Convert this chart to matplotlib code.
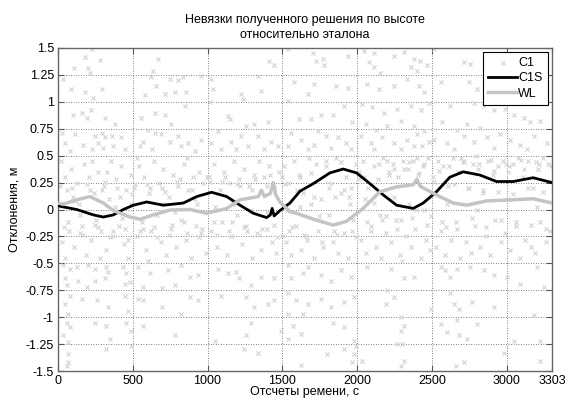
import numpy as np
import matplotlib.pyplot as plt

plt.rcParams['font.family'] = ['Liberation Sans', 'DejaVu Sans']
plt.rcParams['font.size'] = 9

# C1S smoothed solution (black)
c1s_x = [0, 13, 125, 236, 303, 370, 437, 504, 593, 704, 838, 927, 1027, 1128, 1217,
         1306, 1395, 1420, 1432, 1445, 1484, 1551, 1618, 1707, 1818, 1907, 1996, 2086,
         2175, 2264, 2375, 2442, 2531, 2620, 2709, 2821, 2932, 3044, 3177, 3303]
c1s_y = [0.04, 0.03, 0.0, -0.05, -0.07, -0.05, 0.0, 0.04, 0.07, 0.04, 0.06, 0.12, 0.16,
         0.12, 0.04, -0.035, -0.075, -0.05, 0.01, -0.06, -0.01, 0.06, 0.17, 0.24, 0.34,
         0.376, 0.34, 0.24, 0.135, 0.04, 0.01, 0.06, 0.165, 0.30, 0.35, 0.32, 0.26,
         0.26, 0.295, 0.25]

# WL reference solution (light grey)
wl_x = [0, 35, 125, 214, 303, 370, 482, 549, 638, 749, 883, 994, 1128, 1217, 1340,
        1360, 1380, 1420, 1440, 1455, 1484, 1551, 1595, 1707, 1840, 1929, 2040, 2153,
        2264, 2375, 2400, 2420, 2442, 2531, 2642, 2732, 2866, 3044, 3177, 3303]
wl_y = [0.06, 0.05, 0.09, 0.12, 0.06, -0.01, -0.07, -0.09, -0.05, -0.005, 0.0,
        -0.035, 0.01, 0.09, 0.12, 0.18, 0.12, 0.15, 0.25, 0.14, 0.07, -0.02, -0.035,
        -0.09, -0.145, -0.11, 0.01, 0.165, 0.21, 0.23, 0.28, 0.22, 0.2, 0.135, 0.06,
        0.04, 0.08, 0.09, 0.10, 0.06]

# C1 raw solution (scatter)
c1_x = [
    # upper band
    180, 224, 280, 202, 109, 213, 36, 87, 180, 235, 291, 102, 158, 220, 191, 313, 380,
    24, 113, 247, 291, 313, 358, 424, 169, 302, 80, 224, 369, 447, 47, 269,
    636, 669, 624, 658, 747, 802, 836, 713, 780, 580, 858, 958, 647, 713, 558, 847,
    758, 602, 647, 691, 802, 747, 869, 547, 627, 824, 913, 958, 569,
    1024, 1036, 1013, 1224, 1236, 1336, 1358, 1413, 1447, 1136, 1147, 1258, 1313,
    1402, 1069, 1024, 1158, 1224, 1336, 1424, 1091, 1269, 1380, 1469, 1191,
    1536, 1702, 1724, 1769, 1780, 1936, 1580, 1669, 1713, 1858, 1936, 1536, 1613,
    1691, 1758, 1836, 1913, 1969, 1558, 1624, 1736, 1791, 1869, 1924, 1536, 1669,
    1824, 1958, 1713,
    2044, 2111, 2078, 2111, 2156, 2247, 2311, 2378, 2422, 2467, 2358, 2402, 2069,
    2147, 2247, 2336, 2413, 2447, 2036, 2102, 2180, 2269, 2358, 2424, 2480, 2058,
    2124, 2202, 2291, 2380, 2447, 2024, 2091, 2169, 2247, 2336, 2402, 2436, 2480,
    2113, 2291, 2380,
    2513, 2713, 2758, 2558, 2747, 2802, 2624, 2780, 2847, 2913, 2569, 2669, 2736,
    2824, 2991, 3047, 3113, 3158, 3224, 2513, 2602, 2713, 2780, 2869, 2958, 3024,
    3091, 3180, 3269, 2647, 2913, 3136,
    # lower band
    36, 80, 124, 202, 247, 324, 336, 436, 458, 47, 136, 247, 313, 447, 480, 58, 191,
    80, 158, 258, 447, 47, 336, 469, 69, 58, 80, 247, 324, 458, 36, 347, 491, 69,
    324, 69, 69, 58, 491,
    536, 613, 736, 824, 880, 936, 569, 693, 780, 536, 569, 693, 824, 880, 936, 569,
    780,
    1069, 1136, 1191, 1213, 1291, 1358, 1447, 1091, 1258, 1313, 1402, 1447, 1291,
    1258, 1247, 1336, 1047, 1491,
    1536, 1558, 1636, 1669, 1758, 1824, 1891, 1958, 1536, 1591, 1669, 1758, 1824,
    1913, 1980, 1536, 1636, 1836, 1913, 1569, 1624, 1536, 1980, 1913, 1980, 1802,
    1624, 1969, 2036, 1991,
    2069, 2224, 2313, 2380, 2202, 2247, 2191, 2291, 2313, 2291, 2269, 2302, 2313,
    2291, 2558, 2491,
    2591, 2624, 2669, 2758, 2847, 2913, 3002, 3091, 3202, 3247, 2624, 2647, 2680,
    2769, 2913, 2558, 2669, 2602, 2680, 2736, 2802, 3047, 3224, 2980, 2713, 2658,
    3224, 3180,
    # middle band
    20, 45, 60, 75, 90, 110, 125, 140, 160, 175, 190, 205, 220, 240, 255, 270, 290,
    305, 320, 340, 355, 370, 390, 405, 420, 440, 455, 470, 485, 30, 50, 100, 150,
    230, 280, 330, 380, 430, 490,
    510, 525, 540, 560, 575, 590, 610, 625, 640, 660, 675, 690, 705, 720, 740, 755,
    770, 790, 805, 820, 840, 855, 870, 890, 905, 920, 940, 955, 970, 990, 530, 600,
    700, 780, 860, 930,
    1010, 1025, 1045, 1060, 1080, 1095, 1110, 1130, 1145, 1160, 1180, 1195, 1210,
    1230, 1245, 1260, 1280, 1295, 1310, 1330, 1345, 1360, 1380, 1395, 1410, 1430,
    1445, 1460, 1480, 1495, 1050, 1170, 1290, 1400,
    1510, 1525, 1540, 1560, 1575, 1590, 1610, 1625, 1640, 1660, 1675, 1690, 1710,
    1725, 1740, 1760, 1775, 1790, 1810, 1825, 1840, 1860, 1875, 1890, 1910, 1925,
    1940, 1960, 1975, 1990, 1530, 1620, 1850, 1950,
    2010, 2025, 2040, 2060, 2075, 2090, 2110, 2125, 2140, 2160, 2175, 2190, 2210,
    2225, 2240, 2260, 2275, 2290, 2310, 2325, 2340, 2360, 2375, 2390, 2410, 2425,
    2440, 2460, 2475, 2490, 2050, 2150, 2250, 2350, 2450, 2200, 2300, 2400,
    2510, 2525, 2540, 2560, 2575, 2590, 2610, 2625, 2640, 2660, 2675, 2690, 2710,
    2725, 2740, 2760, 2775, 2790, 2810, 2825, 2840, 2860, 2875, 2890, 2910, 2925,
    2940, 2960, 2975, 2990, 3010, 3025, 3040, 3060, 3075, 3090, 3110, 3125, 3140,
    3160, 3175, 3190, 3210, 3225, 3240, 3260, 3275, 3290, 2600, 2800, 3000, 3200,
    # inner band
    15, 65, 115, 165, 215, 265, 315, 365, 415, 465, 515, 565, 615, 665, 715, 765,
    815, 865, 915, 965, 1015, 1065, 1115, 1165, 1215, 1265, 1315, 1365, 1415, 1465,
    1515, 1565, 1615, 1665, 1715, 1765, 1815, 1865, 1915, 1965, 2015, 2065, 2115,
    2165, 2215, 2265, 2315, 2365, 2415, 2465, 2515, 2565, 2615, 2665, 2715, 2765,
    2815, 2865, 2915, 2965, 3015, 3065, 3115, 3165, 3215, 3265,
    40, 95, 145, 195, 245, 295, 345, 395, 445, 495, 545, 595, 645, 695, 745, 795,
    845, 895, 945, 995, 1045, 1095, 1145, 1195, 1245, 1295, 1345, 1395, 1445, 1495,
    1545, 1595, 1645, 1695, 1745, 1795, 1845, 1895, 1945, 1995, 2045, 2095, 2145,
    2195, 2245, 2295, 2345, 2395, 2445, 2495, 2545, 2595, 2645, 2695, 2745, 2795,
    2845, 2895, 2945, 2995, 3045, 3095, 3145, 3195, 3245, 3295,
]
c1_y = [
    # upper band
    1.42, 1.49, 1.39, 1.31, 1.31, 1.27, 1.21, 1.12, 1.09, 1.04, 1.12, 0.88, 0.90, 0.92,
    0.85, 0.85, 0.79, 0.71, 0.70, 0.68, 0.71, 0.67, 0.68, 0.67, 0.60, 0.57, 0.54, 0.56,
    0.59, 0.56, 0.62, 0.62,
    1.29, 1.40, 1.23, 1.15, 1.21, 1.20, 1.23, 1.07, 1.09, 1.06, 1.09, 1.24, 0.90, 0.88,
    0.85, 0.96, 0.79, 0.74, 0.71, 0.70, 0.68, 0.63, 0.62, 0.59, 0.56, 0.59, 0.54, 0.65,
    0.63,
    1.21, 1.12, 1.0, 1.07, 1.03, 1.24, 1.10, 1.38, 1.34, 0.87, 0.84, 0.78, 0.79, 0.81,
    0.73, 0.62, 0.63, 0.68, 0.68, 0.63, 0.56, 0.59, 0.56, 0.59, 0.56,
    1.49, 1.45, 1.38, 1.40, 1.34, 1.43, 1.18, 1.07, 1.17, 1.15, 1.13, 1.01, 0.84, 0.84,
    0.88, 0.88, 0.96, 0.81, 0.71, 0.65, 0.73, 0.68, 0.67, 0.62, 0.59, 0.56, 0.57, 0.56,
    0.60,
    1.47, 1.45, 1.37, 1.32, 1.27, 1.43, 1.46, 1.40, 1.38, 1.34, 1.32, 1.29, 1.17, 1.12,
    1.15, 1.21, 1.15, 1.09, 0.98, 0.95, 0.90, 0.93, 0.96, 0.92, 0.99, 0.79, 0.74, 0.78,
    0.82, 0.78, 0.73, 0.68, 0.62, 0.67, 0.62, 0.65, 0.70, 0.59, 0.63, 0.56, 0.56, 0.59,
    1.49, 1.37, 1.35, 1.18, 1.18, 1.12, 0.96, 0.99, 0.96, 0.92, 0.81, 0.74, 0.79, 0.76,
    0.93, 0.88, 0.85, 0.81, 0.82, 0.65, 0.62, 0.68, 0.63, 0.67, 0.70, 0.65, 0.60, 0.68,
    0.62, 0.56, 0.57, 0.56,
    # lower band
    -0.52, -0.55, -0.53, -0.52, -0.55, -0.53, -0.58, -0.53, -0.59, -0.64, -0.66, -0.66,
    -0.64, -0.69, -0.67, -0.70, -0.72, -0.80, -0.83, -0.84, -0.80, -0.88, -0.91, -0.94,
    -0.97, -1.05, -1.09, -1.05, -1.08, -1.05, -1.17, -1.20, -1.13, -1.23, -1.30, -1.34,
    -1.42, -1.45, -1.27,
    -0.53, -0.59, -0.56, -0.52, -0.63, -0.61, -0.72, -0.73, -0.70, -0.83, -0.84, -0.91,
    -0.97, -0.81, -0.84, -1.08, -1.17,
    -0.55, -0.59, -0.58, -0.64, -0.70, -0.63, -0.64, -0.80, -0.81, -0.91, -0.88, -0.84,
    -1.05, -1.17, -1.30, -1.33, -1.22, -1.13,
    -0.52, -0.64, -0.59, -0.53, -0.61, -0.66, -0.56, -0.63, -0.78, -0.84, -0.88, -0.83,
    -0.91, -0.86, -0.81, -0.97, -0.97, -1.05, -1.09, -1.08, -1.16, -1.20, -1.22, -1.30,
    -1.34, -1.34, -1.44, -1.42, -1.41, -1.27,
    -0.53, -0.55, -0.64, -0.63, -0.75, -0.81, -0.88, -1.0, -1.08, -1.13, -1.25, -1.25,
    -1.41, -1.45, -0.53, -0.92,
    -0.56, -0.63, -0.55, -0.53, -0.56, -0.61, -0.63, -0.69, -0.53, -0.72, -0.78, -0.88,
    -0.92, -0.86, -0.91, -1.06, -1.03, -1.14, -1.17, -1.20, -1.06, -1.22, -1.22, -1.33,
    -1.42, -1.45, -1.41, -0.98,
    # middle band
    0.45, 0.3, 0.18, -0.2, 0.38, -0.35, 0.25, 0.05, -0.15, 0.42, -0.42, 0.3, -0.28,
    0.15, -0.1, 0.35, -0.2, 0.22, -0.38, 0.1, 0.45, -0.25, 0.28, -0.15, 0.4, -0.32,
    0.18, -0.45, 0.32, -0.3, -0.45, 0.12, -0.05, 0.45, -0.45, 0.35, 0.02, -0.08, 0.05,
    0.2, -0.25, 0.4, -0.12, 0.3, -0.38, 0.15, -0.2, 0.45, -0.05, 0.25, -0.3, 0.38,
    -0.42, 0.12, -0.18, 0.32, -0.35, 0.22, -0.1, 0.42, -0.28, 0.18, -0.45, 0.3, -0.15,
    0.35, -0.22, 0.25, -0.4, 0.48, -0.48, 0.05, -0.02, 0.48, 0.05,
    0.3, -0.2, 0.42, -0.35, 0.18, -0.12, 0.35, -0.42, 0.25, -0.25, 0.45, -0.05, 0.28,
    -0.32, 0.38, -0.15, 0.22, -0.45, 0.32, -0.22, 0.45, -0.38, 0.3, -0.18, 0.4, -0.3,
    0.2, -0.4, 0.35, -0.25, 0.02, 0.05, 0.0, -0.02,
    0.4, -0.3, 0.25, -0.42, 0.45, -0.15, 0.32, -0.38, 0.15, -0.25, 0.48, 0.05, -0.45,
    0.42, -0.2, 0.1, -0.35, 0.45, -0.05, 0.25, -0.3, 0.48, -0.4, 0.15, -0.22, 0.3,
    -0.45, 0.2, -0.1, 0.42, 0.0, 0.02, 0.12, 0.05,
    0.35, -0.28, 0.45, -0.4, 0.2, -0.15, 0.4, -0.35, 0.28, -0.45, 0.48, -0.22, 0.35,
    -0.3, 0.42, -0.1, 0.3, -0.42, 0.45, -0.25, 0.38, -0.35, 0.45, -0.18, 0.32, -0.45,
    0.4, -0.28, 0.48, -0.38, 0.1, -0.05, 0.12, 0.05, 0.0, 0.45, -0.48, 0.48,
    0.3, -0.35, 0.45, -0.2, 0.4, -0.42, 0.22, -0.28, 0.48, -0.12, 0.35, -0.45, 0.45,
    -0.3, 0.2, -0.4, 0.42, -0.15, 0.38, -0.35, 0.15, -0.25, 0.45, -0.42, 0.32, -0.1,
    0.4, -0.3, 0.45, -0.22, 0.35, -0.38, 0.42, -0.15, 0.48, -0.45, 0.3, -0.28, 0.45,
    -0.35, 0.2, -0.4, 0.38, -0.12, 0.48, -0.3, 0.42, -0.2, 0.05, 0.0, 0.1, 0.02,
    # inner band
    0.22, -0.12, 0.08, -0.24, 0.18, -0.16, 0.26, -0.2, 0.12, -0.28, 0.24, -0.18, 0.2,
    -0.26, 0.16, -0.14, 0.28, -0.22, 0.1, -0.18, 0.26, -0.24, 0.3, -0.12, 0.22, -0.2,
    0.28, -0.18, 0.32, -0.26, 0.24, -0.16, 0.3, -0.28, 0.12, -0.3, 0.2, -0.24, 0.18,
    -0.2, 0.28, -0.12, 0.06, -0.1, 0.32, -0.18, 0.38, -0.08, 0.34, -0.14, 0.26,
    -0.12, 0.4, -0.18, 0.44, -0.08, 0.42, -0.16, 0.36, -0.1, 0.4, -0.12, 0.38, -0.14,
    0.42, -0.18,
    -0.16, 0.2, -0.22, 0.24, -0.14, 0.18, -0.26, 0.2, -0.18, 0.14, -0.2, 0.24, -0.16,
    0.2, -0.24, 0.26, -0.12, 0.18, -0.26, 0.3, -0.12, 0.26, -0.2, 0.24, -0.16, 0.18,
    -0.24, 0.22, -0.14, 0.3, -0.2, 0.18, -0.24, 0.34, -0.06, 0.4, -0.2, 0.44, 0.12,
    -0.26, 0.3, -0.2, 0.42, -0.06, 0.38, -0.1, 0.44, 0.0, 0.42, -0.06, 0.36, -0.16,
    0.24, 0.48, 0.2, 0.5, 0.18, 0.46, 0.16, 0.42, 0.14, 0.46, 0.2, 0.44, 0.16, 0.4,
]

x_ticks = [0, 500, 1000, 1500, 2000, 2500, 3000, 3303]
y_ticks = np.arange(-1.5, 1.51, 0.25)
y_labels = ['-1.5', '-1.25', '-1', '-0.75', '-0.5', '-0.25', '0', '0.25', '0.5',
            '0.75', '1', '1.25', '1.5']

fig = plt.figure(figsize=(5.67, 4.01), dpi=100)
ax = fig.add_axes([0.1023, 0.0748, 0.8712, 0.8055])

ax.scatter(c1_x, c1_y, marker='x', s=9, linewidths=0.8, color='#d3d3d3',
           label='C1', zorder=2)
ax.plot(c1s_x, c1s_y, color='black', lw=2.0, label='C1S', zorder=3)
ax.plot(wl_x, wl_y, color='#c4c4c4', lw=2.5, label='WL', zorder=4)

ax.set_xlim(0, 3303)
ax.set_ylim(-1.5, 1.5)
ax.set_xticks(x_ticks)
ax.set_xticklabels([str(t) for t in x_ticks])
ax.set_yticks(y_ticks)
ax.set_yticklabels(y_labels)
ax.tick_params(direction='in', length=4, width=0.8, color='#555555',
               top=True, right=True, labelsize=9, pad=3)
ax.grid(True, linestyle=(0, (1, 2)), color='#555555', linewidth=0.6)
ax.set_axisbelow(True)
for sp in ax.spines.values():
    sp.set_color('#666666')
    sp.set_linewidth(1.0)

ax.set_title('Невязки полученного решения по высоте\nотносительно эталона',
             fontsize=9, pad=7, linespacing=1.35)
ax.set_xlabel('Отсчеты ремени, с', fontsize=9, labelpad=-1)
ax.set_ylabel('Отклонения, м', fontsize=9, labelpad=4)

leg = ax.legend(loc='upper right', fancybox=False, framealpha=1, edgecolor='black',
                fontsize=9, handlelength=2.3, borderaxespad=0.35, labelspacing=0.25,
                handletextpad=0.1, borderpad=0.4, alignment='right')
leg.get_frame().set_linewidth(0.8)
leg.set_zorder(10)

fig.savefig('out.png', dpi=100)
